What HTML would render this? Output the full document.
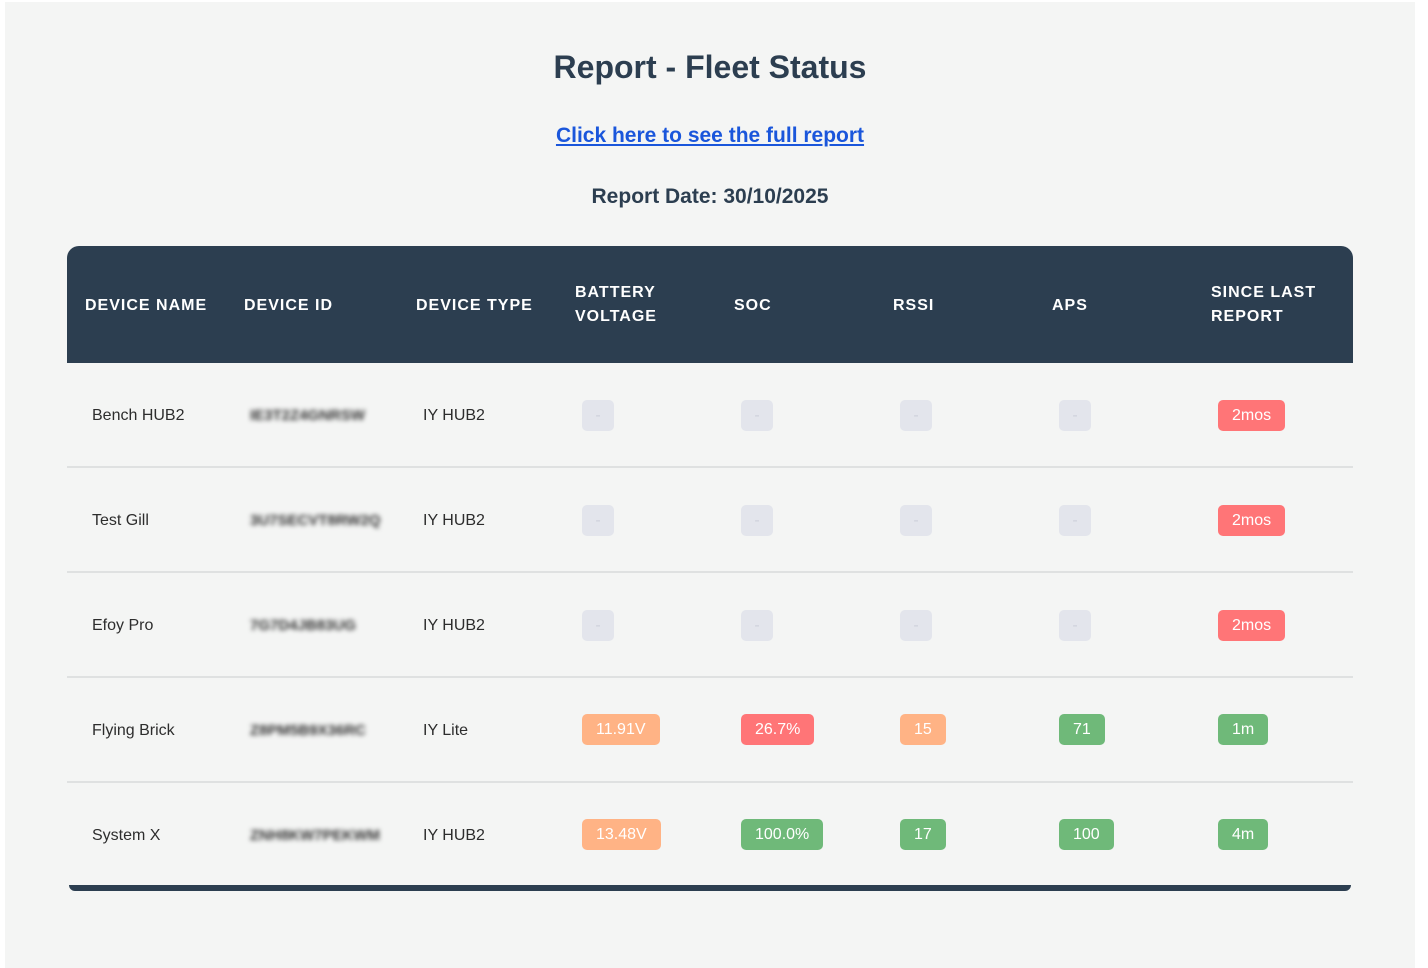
<!DOCTYPE html>
<html><head><meta charset="utf-8"><style>
body{margin:0;background:#fff;font-family:"Liberation Sans",Arial,sans-serif;}
.page{position:absolute;left:5px;top:2px;width:1410px;height:966px;background:#f4f5f4;}
.t{position:absolute;left:0;width:1420px;text-align:center;color:#2c3e50;font-weight:bold;}
.hd{position:absolute;left:67px;top:246px;width:1286px;height:117px;background:#2c3e50;border-radius:12px 12px 0 0;}
.h{position:absolute;color:#fff;font-weight:bold;font-size:16px;letter-spacing:1px;line-height:24px;}
.c{position:absolute;color:#2d2d2d;font-size:16px;}
.line{position:absolute;left:67px;width:1286px;height:2px;background:#dfe1e1;}
.b{position:absolute;height:31px;line-height:31px;border-radius:5px;color:#fff;font-size:16px;padding:0 14px;}
.g{background:#e3e5ec;color:#cfd2dc;width:32px;padding:0;text-align:center;}
.o{background:#ffb385}.r{background:#ff7577}.gr{background:#6fb979}
.id{position:absolute;color:#333;font-size:15px;font-weight:bold;filter:blur(2.5px);}
</style></head><body>
<div class="page"></div>
<div class="t" style="top:49px;font-size:32px;">Report - Fleet Status</div>
<div class="t" style="top:124px;font-size:21px;"><span style="color:#1a56db;text-decoration:underline;">Click here to see the full report</span></div>
<div class="t" style="top:185px;font-size:21px;">Report Date: 30/10/2025</div>
<div class="hd"></div>
<div class="h" style="left:85px;top:294px">DEVICE NAME</div>
<div class="h" style="left:244px;top:294px">DEVICE ID</div>
<div class="h" style="left:416px;top:294px">DEVICE TYPE</div>
<div class="h" style="left:575px;top:281px">BATTERY<br>VOLTAGE</div>
<div class="h" style="left:734px;top:294px">SOC</div>
<div class="h" style="left:893px;top:294px">RSSI</div>
<div class="h" style="left:1052px;top:294px">APS</div>
<div class="h" style="left:1211px;top:281px">SINCE LAST<br>REPORT</div>

<div class="line" style="top:466px"></div>
<div class="line" style="top:571px"></div>
<div class="line" style="top:676px"></div>
<div class="line" style="top:781px"></div>
<div style="position:absolute;left:69px;top:885px;width:1282px;height:6px;background:#2c3e50;border-radius:0 0 8px 8px;"></div>

<div class="c" style="left:92px;top:407px">Bench HUB2</div>
<div class="id" style="left:250px;top:407px">IE3T2Z4GNRSW</div>
<div class="c" style="left:423px;top:407px">IY HUB2</div>
<div class="b g" style="left:582px;top:400px">-</div>
<div class="b g" style="left:741px;top:400px">-</div>
<div class="b g" style="left:900px;top:400px">-</div>
<div class="b g" style="left:1059px;top:400px">-</div>
<div class="b r" style="left:1218px;top:400px">2mos</div>

<div class="c" style="left:92px;top:512px">Test Gill</div>
<div class="id" style="left:250px;top:512px">3U7SECVT8RW2Q</div>
<div class="c" style="left:423px;top:512px">IY HUB2</div>
<div class="b g" style="left:582px;top:505px">-</div>
<div class="b g" style="left:741px;top:505px">-</div>
<div class="b g" style="left:900px;top:505px">-</div>
<div class="b g" style="left:1059px;top:505px">-</div>
<div class="b r" style="left:1218px;top:505px">2mos</div>

<div class="c" style="left:92px;top:617px">Efoy Pro</div>
<div class="id" style="left:250px;top:617px">7G7D4JB83UG</div>
<div class="c" style="left:423px;top:617px">IY HUB2</div>
<div class="b g" style="left:582px;top:610px">-</div>
<div class="b g" style="left:741px;top:610px">-</div>
<div class="b g" style="left:900px;top:610px">-</div>
<div class="b g" style="left:1059px;top:610px">-</div>
<div class="b r" style="left:1218px;top:610px">2mos</div>

<div class="c" style="left:92px;top:722px">Flying Brick</div>
<div class="id" style="left:250px;top:722px">Z8PM5B9X36RC</div>
<div class="c" style="left:423px;top:722px">IY Lite</div>
<div class="b o" style="left:582px;top:714px">11.91V</div>
<div class="b r" style="left:741px;top:714px">26.7%</div>
<div class="b o" style="left:900px;top:714px">15</div>
<div class="b gr" style="left:1059px;top:714px">71</div>
<div class="b gr" style="left:1218px;top:714px">1m</div>

<div class="c" style="left:92px;top:827px">System X</div>
<div class="id" style="left:250px;top:827px">ZNH8KW7PEKWM</div>
<div class="c" style="left:423px;top:827px">IY HUB2</div>
<div class="b o" style="left:582px;top:819px">13.48V</div>
<div class="b gr" style="left:741px;top:819px">100.0%</div>
<div class="b gr" style="left:900px;top:819px">17</div>
<div class="b gr" style="left:1059px;top:819px">100</div>
<div class="b gr" style="left:1218px;top:819px">4m</div>
</body></html>
